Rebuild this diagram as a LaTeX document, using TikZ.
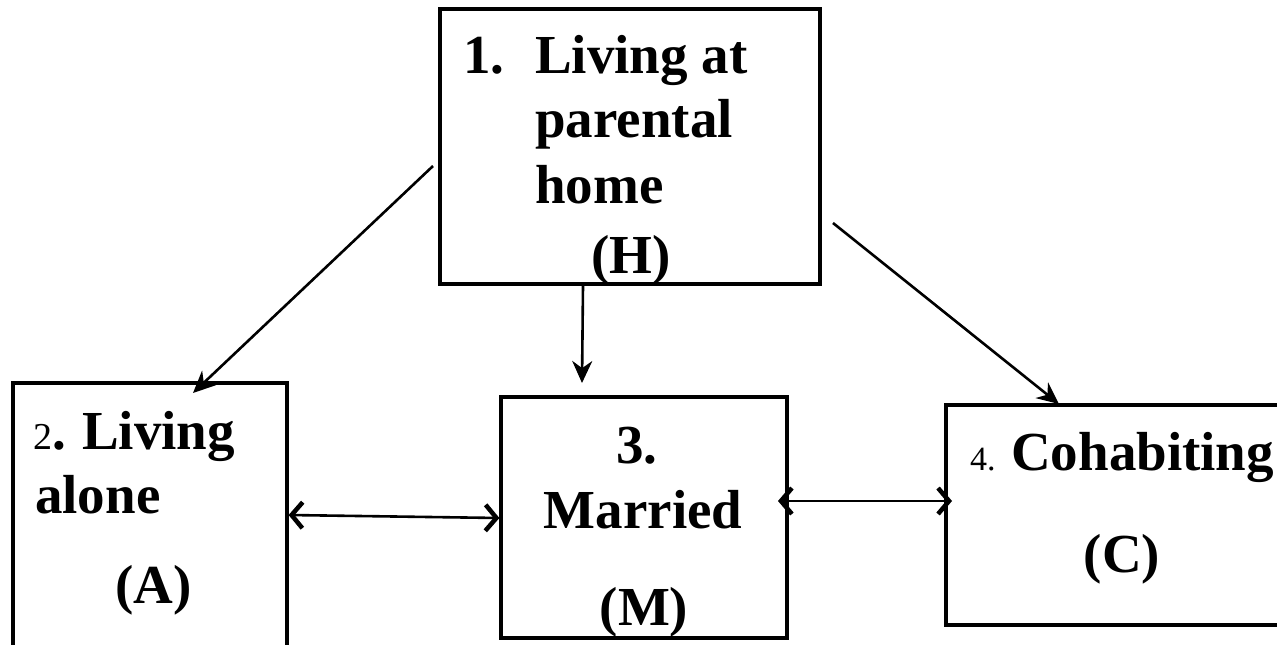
\documentclass[tikz,border=0pt]{standalone}
\usepackage{fontspec}
\setmainfont{Liberation Serif}
\usetikzlibrary{arrows.meta}
\begin{document}
\begin{tikzpicture}[x=1pt,y=-1pt,
  box/.style={draw,line width=3.2pt,rectangle,inner sep=0pt},
  lbl/.style={inner sep=0pt,anchor=base west,font=\fontsize{55}{64}\selectfont\bfseries},
  lblc/.style={inner sep=0pt,anchor=base,font=\fontsize{55}{64}\selectfont\bfseries},
  small/.style={inner sep=0pt,anchor=base west,font=\fontsize{38}{44}\selectfont},
  conn/.style={line width=2.6pt,-{Stealth[length=22pt,width=20pt]}},
  dbl/.style={line width=2.6pt,{Straight Barb[length=11pt,width=26pt,line width=4.5pt]}-{Straight Barb[length=11pt,width=26pt,line width=4.5pt]}}]
\useasboundingbox (0,0) rectangle (1277,645);
\fill[white] (0,0) rectangle (1277,645);
% boxes
\node[box,minimum width=380pt,minimum height=275pt] (H) at (630,146.5) {};
\node[box,minimum width=274pt,minimum height=330pt] (A) at (150,548) {};
\node[box,minimum width=286pt,minimum height=241pt] (M) at (644,517.5) {};
\node[box,minimum width=344pt,minimum height=220pt] (C) at (1118,515) {};
% texts H
\node[lbl] (h1) at (463,73) {1.};
\node[lbl] (h2) at (535,73) {Living at};
\node[lbl] (h3) at (535,137) {parental};
\node[lbl] (h4) at (535,203) {home};
\node[lblc] (h5) at (631,273) {(H)};
% texts A
\node[small] (a0) at (33,449) {2\fontsize{55}{64}\selectfont\textbf{.}};
\node[lbl] (a1) at (82,449) {Living};
\node[lbl] (a2) at (35,513) {alone};
\node[lbl] (a3) at (115,603) {(A)};
% texts M
\node[lblc] (m1) at (637,463) {3.};
\node[lblc] (m2) at (643,528) {Married};
\node[lblc] (m3) at (644,625) {(M)};
% texts C
\node[small,font=\fontsize{34}{40}\selectfont] (c0) at (970,470) {4.};
\node[lbl] (c1) at (1011,470) {Cohabiting};
\node[lblc] (c2) at (1122,572) {(C)};
% connector ends
\coordinate (sHA) at (433,166);
\coordinate (tHA) at (193,393);
\coordinate (sHM) at (H.south -| 583,0);
\coordinate (tHM) at (582,383);
\coordinate (sHC) at (833,223);
\coordinate (tHC) at (1059,404);
\coordinate (AR) at (A.east |- 0,515);
\coordinate (ML) at (M.west |- 0,518);
\coordinate (MR) at (778,501);
\coordinate (CL) at (952,501);
% connectors
\draw[conn] (sHA) -- (tHA);
\draw[conn] (sHM) -- (tHM);
\draw[conn] (sHC) -- (tHC);
\draw[dbl] (AR) -- (ML);
\draw[dbl] (MR) -- (CL);
\end{tikzpicture}
\end{document}
